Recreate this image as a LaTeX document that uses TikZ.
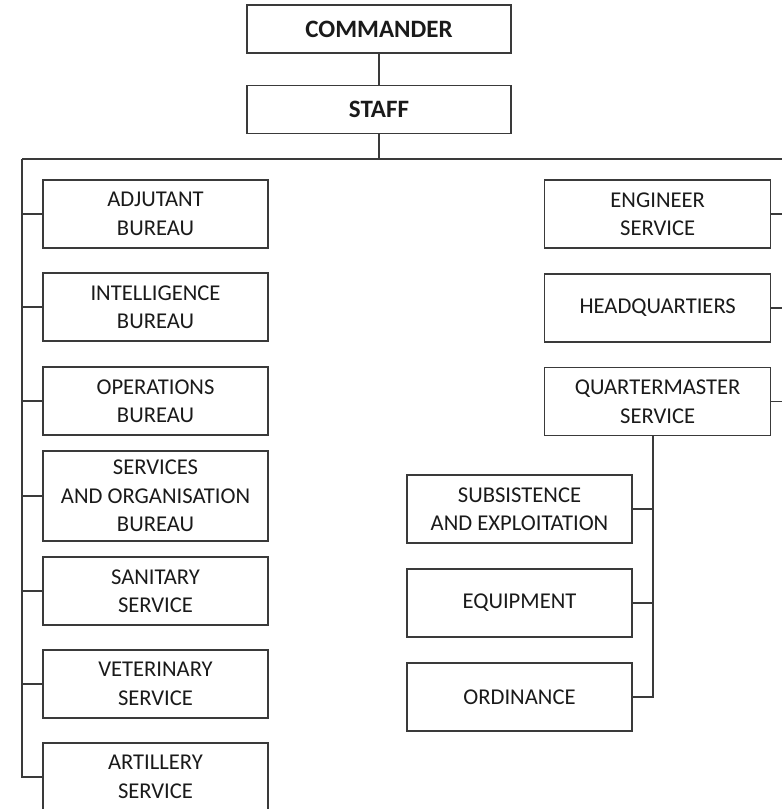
\documentclass[tikz,border=0pt]{standalone}
\usepackage{fontspec}
\setmainfont{Carlito}
\definecolor{inkline}{HTML}{3A3A3A}
\definecolor{inktext}{HTML}{1A1A1A}
\begin{document}
\begin{tikzpicture}[x=1pt,y=-1pt,
  box/.style={draw=inkline,line width=1.3pt,inner sep=0pt,align=center,
    text=inktext,font=\fontsize{22.6}{28.5}\selectfont,minimum width=225pt,minimum height=68pt},
  topbox/.style={box,minimum width=264pt,minimum height=48pt,font=\fontsize{25}{28}\selectfont\bfseries},
  link/.style={draw=inkline,line width=1.3pt}]
\useasboundingbox (0,0) rectangle (782,809);
\clip (0,0) rectangle (782,809);

% top of the hierarchy
\node[topbox] (cmd) at (379,29) {COMMANDER};
\node[topbox] (staff) at (379,109.5) {STAFF};

% staff sections on the left
\node[box] (adj) at (155.5,214) {ADJUTANT\\BUREAU};
\node[box] (int) at (155.5,307) {INTELLIGENCE\\BUREAU};
\node[box] (ops) at (155.5,401) {OPERATIONS\\BUREAU};
\node[box,minimum height=90pt] (svc) at (155.5,496) {SERVICES\\AND ORGANISATION\\BUREAU};
\node[box] (san) at (155.5,591) {SANITARY\\SERVICE};
\node[box] (vet) at (155.5,684) {VETERINARY\\SERVICE};
\node[box] (art) at (155.5,777) {ARTILLERY\\SERVICE};

% services on the right
\node[box,minimum width=226pt] (eng) at (657.7,214) {ENGINEER\\SERVICE};
\node[box,minimum width=226pt] (hq) at (657.7,308) {HEADQUARTIERS};
\node[box,minimum width=226pt] (qm) at (657.7,401.7) {QUARTERMASTER\\SERVICE};

% quartermaster branches
\node[box] (sub) at (519.5,509) {SUBSISTENCE\\AND EXPLOITATION};
\node[box] (eqp) at (519.5,603) {EQUIPMENT};
\node[box] (ord) at (519.5,697) {ORDINANCE};

% bus and spines
\coordinate (busL) at (22,159);
\coordinate (busR) at (790,159);
\coordinate (busM) at (379,159);
\coordinate (spineR) at (790,159);
\coordinate (qmspine) at (653,0);

\draw[link] (cmd.south) -- (staff.north);
\draw[link] (staff.south) -- (busM);
\draw[link] (busL) -- (busR);
\draw[link] (busL) |- (art.west);
\foreach \n in {adj,int,ops,svc,san,vet}
  \draw[link] (busL |- \n.west) -- (\n.west);
\foreach \n in {eng,hq,qm}
  \draw[link] (\n.east) -- (spineR |- \n.east);
\draw[link] (qmspine |- qm.south) |- (ord.east);
\foreach \n in {sub,eqp}
  \draw[link] (\n.east) -- (qmspine |- \n.east);
\end{tikzpicture}
\end{document}
